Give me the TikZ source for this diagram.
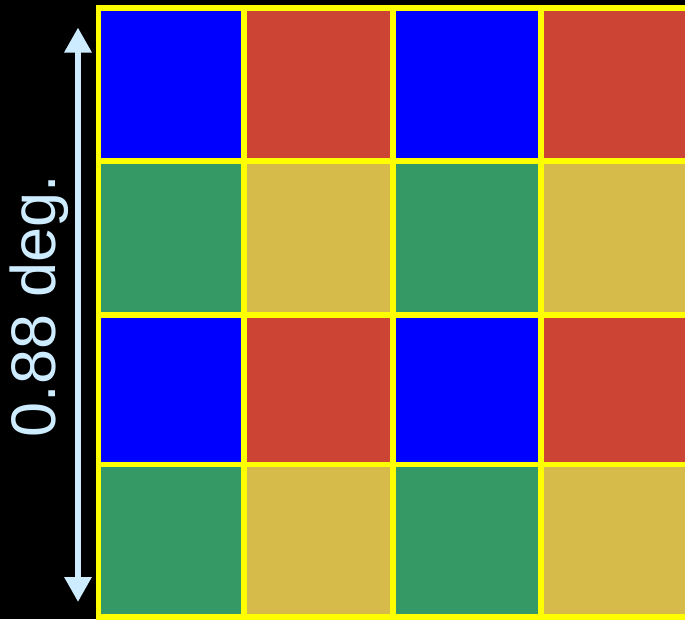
\documentclass[tikz,border=0pt]{standalone}
\usepackage{fontspec}
\setmainfont{Liberation Sans}
\usetikzlibrary{arrows.meta}
\definecolor{cblue}{RGB}{0,0,255}
\definecolor{cred}{RGB}{204,68,51}
\definecolor{cgreen}{RGB}{53,153,102}
\definecolor{cmust}{RGB}{214,186,74}
\definecolor{cyel}{RGB}{255,255,0}
\definecolor{clight}{RGB}{206,236,255}
\tikzset{
  gridline/.style={draw=cyel, line width=5.5pt},
  dimarrow/.style={draw=clight, line width=6pt, {Triangle[width=26pt,length=25pt]}-{Triangle[width=26pt,length=25pt]}},
  dimlabel/.style={text=clight, font=\fontsize{63}{63}\selectfont, rotate=90, anchor=base, inner sep=0pt}
}
\begin{document}
\begin{tikzpicture}[x=1pt,y=-1pt]
\useasboundingbox (0,0) rectangle (685,619);
\fill[black] (0,0) rectangle (685,619);
\begin{scope}
\clip (0,0) rectangle (685,619);
% row 1
\fill[cblue]  (98.5,8) rectangle (244,161);
\fill[cred]   (244,8) rectangle (393,161);
\fill[cblue]  (393,8) rectangle (541,161);
\fill[cred]   (541,8) rectangle (690,161);
% row 2
\fill[cgreen] (98.5,161) rectangle (244,315);
\fill[cmust]  (244,161) rectangle (393,315);
\fill[cgreen] (393,161) rectangle (541,315);
\fill[cmust]  (541,161) rectangle (690,315);
% row 3
\fill[cblue]  (98.5,315) rectangle (244,464.5);
\fill[cred]   (244,315) rectangle (393,464.5);
\fill[cblue]  (393,315) rectangle (541,464.5);
\fill[cred]   (541,315) rectangle (690,464.5);
% row 4
\fill[cgreen] (98.5,464.5) rectangle (244,617);
\fill[cmust]  (244,464.5) rectangle (393,617);
\fill[cgreen] (393,464.5) rectangle (541,617);
\fill[cmust]  (541,464.5) rectangle (690,617);
% grid lines
\foreach \y in {8,161,315,464.5,617} {\draw[gridline] (96,\y) -- (690,\y);}
\foreach \x in {98.5,244,393,541} {\draw[gridline] (\x,5.5) -- (\x,619.5);}
\end{scope}
\coordinate (top) at (78,27.5);
\coordinate (bot) at (78,602);
\draw[dimarrow] (top) -- (bot);
\node[dimlabel] (lbl) at (55,306) {0.88 deg.};
\end{tikzpicture}
\end{document}
